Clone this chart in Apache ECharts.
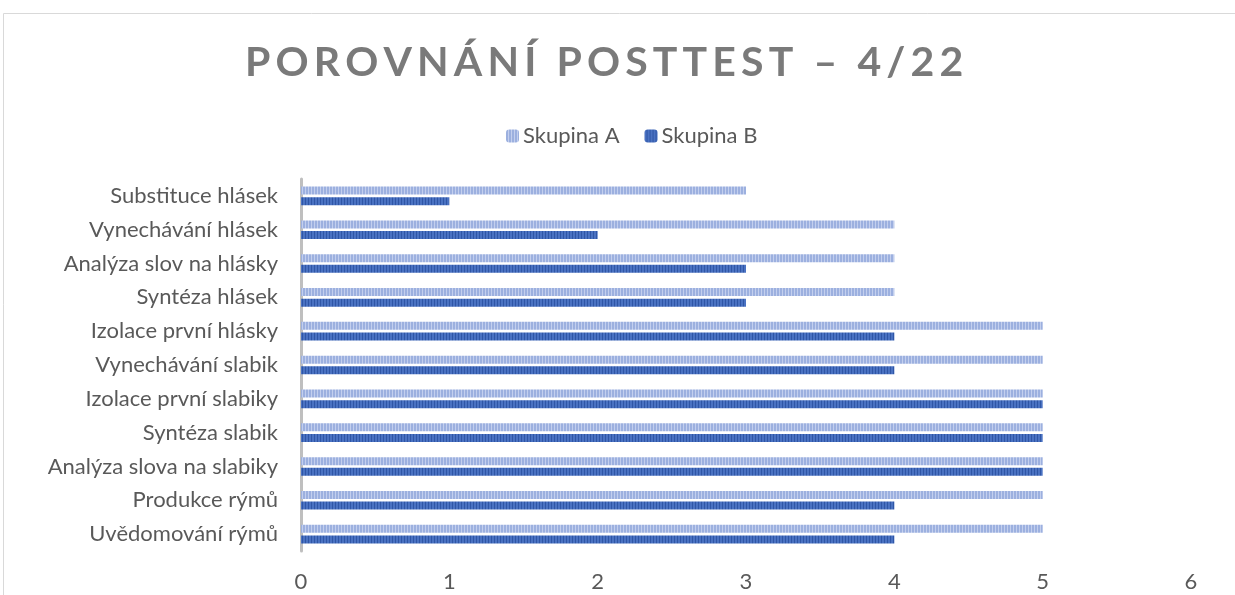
<html>
<head>
<meta charset="utf-8">
<title>Porovnání posttest</title>
<script src="https://cdn.jsdelivr.net/npm/echarts@6/dist/echarts.min.js"></script>
<style>
  html, body { margin: 0; padding: 0; background: #fff; }
  #chart { width: 1235px; height: 595px; }
</style>
</head>
<body>
<div id="chart"></div>
<script>
// kategorie odspodu nahoru (osa y)
var categories = [
  'Uvědomování rýmů', 'Produkce rýmů', 'Analýza slova na slabiky', 'Syntéza slabik',
  'Izolace první slabiky', 'Vynechávání slabik', 'Izolace první hlásky', 'Syntéza hlásek',
  'Analýza slov na hlásky', 'Vynechávání hlásek', 'Substituce hlásek'
];
var skupinaA = [5, 5, 5, 5, 5, 5, 5, 4, 4, 4, 3];
var skupinaB = [4, 4, 5, 5, 5, 4, 4, 3, 3, 2, 1];
var xTicks = [0, 1, 2, 3, 4, 5, 6];

// svislé pruhy jako v Excelu
function stripes(c1, c2) {
  var cv = document.createElement('canvas');
  cv.width = 3; cv.height = 4;
  var ctx = cv.getContext('2d');
  ctx.fillStyle = c1; ctx.fillRect(0, 0, 3, 4);
  ctx.fillStyle = c2; ctx.fillRect(2, 0, 1, 4);
  return { image: cv, repeat: 'repeat' };
}

// prostrkaný nadpis
function spaced(s) {
  return s.split('').join('\u2009');
}

var chart = echarts.init(document.getElementById('chart'));
var font = 'Lato, "Open Sans", sans-serif';

var option = {
  animation: false,
  textStyle: { fontFamily: font },
  title: {
    text: spaced('POROVNÁNÍ POSTTEST – 4/22'),
    left: 240,
    top: 37,
    textStyle: { fontFamily: font, fontSize: 41, fontWeight: 'bold', color: '#7a7a7a' }
  },
  legend: {
    data: ['Skupina A', 'Skupina B'],
    top: 120,
    left: 501,
    itemWidth: 13,
    itemHeight: 13,
    itemGap: 25,
    textStyle: { fontSize: 22, color: '#595959', fontFamily: font, padding: [0, 0, 0, -1] }
  },
  graphic: [{
    type: 'rect',
    shape: { x: 3.5, y: 13.5, width: 1400, height: 800 },
    style: { fill: 'none', stroke: '#d9d9d9', lineWidth: 1 },
    silent: true
  }],
  grid: { left: 301, right: 44, top: 179, bottom: 44, containLabel: false },
  xAxis: {
    type: 'value',
    min: xTicks[0],
    max: xTicks[xTicks.length - 1],
    interval: 1,
    axisLine: { show: false },
    axisTick: { show: false },
    splitLine: { show: false },
    axisLabel: { fontSize: 22, color: '#595959', margin: 20, fontFamily: font }
  },
  yAxis: {
    type: 'category',
    data: categories,
    axisLine: { show: true, lineStyle: { color: '#bfbfbf', width: 3 } },
    axisTick: { show: false },
    axisLabel: { fontSize: 22, color: '#595959', margin: 23, fontFamily: font }
  },
  series: [
    {
      name: 'Skupina A',
      type: 'bar',
      data: skupinaA,
      barWidth: 8,
      barGap: '33%',
      itemStyle: { color: stripes('#9cb0df', '#c3cfee') }
    },
    {
      name: 'Skupina B',
      type: 'bar',
      data: skupinaB,
      barWidth: 8,
      barGap: '33%',
      itemStyle: { color: stripes('#4a72c2', '#2f56a6') }
    }
  ]
};

chart.setOption(option);
</script>
</body>
</html>
